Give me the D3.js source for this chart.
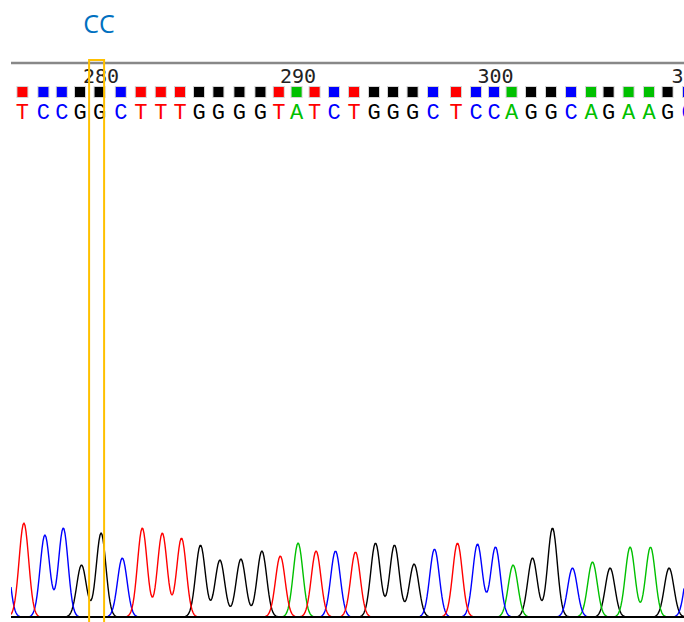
<!DOCTYPE html>
<html>
<head>
<meta charset="utf-8">
<script src="https://cdn.jsdelivr.net/npm/d3@7"></script>
<style>
  body { margin: 0; background: #fff; }
  svg { display: block; }
</style>
</head>
<body>
<div id="chrom"></div>
<script>
// base calls shown in the window (base 275 and 310 are only partly visible)
var baseNum = [275, 276, 277, 278, 279, 280, 281, 282, 283, 284, 285, 286, 287, 288, 289, 290, 291, 292,
  293, 294, 295, 296, 297, 298, 299, 300, 301, 302, 303, 304, 305, 306, 307, 308, 309, 310];
var baseCall = ["C", "T", "C", "C", "G", "G", "C", "T", "T", "T", "G", "G", "G", "G", "T", "A", "T", "C",
  "T", "G", "G", "G", "C", "T", "C", "C", "A", "G", "G", "C", "A", "G", "A", "A", "G", "C"];
// scan position of each base call
var callScan = [3395.5, 3405.2, 3415.7, 3424.9, 3434, 3443.8, 3454.4, 3464.4, 3474.4, 3484, 3493.5, 3503.2,
  3513.7, 3524.2, 3533.4, 3542.3, 3551.3, 3561, 3571, 3581, 3590.5, 3600.3, 3610.5, 3622, 3632, 3641,
  3649.8, 3659.5, 3669.5, 3679.5, 3689.5, 3698.3, 3708.3, 3718.5, 3727.8, 3738];
// peak signal of the called base
var peakHeight = [75, 94, 82, 89, 52, 84, 59, 89, 84, 79, 72, 57, 58, 66, 61, 74, 66, 66,
  65, 74, 72, 53, 68, 74, 73, 70, 52, 59, 89, 49, 55, 49, 70, 70, 49, 55];
var rulerTicks = [280, 290, 300, 310];
var markedBases = [279, 280];
var markLabel = "CC";

var baseColor = { A: "#00c000", C: "#0000ff", G: "#000000", T: "#ff0000" };

var svgWidth = 684;
var svgHeight = 622;
var left = 12;
var right = 684;
var baseY = 617;

var svg = d3.select("#chrom")
  .append("svg")
  .attr("width", svgWidth)
  .attr("height", svgHeight);

var xScale = d3.scaleLinear().domain([3400, 3736]).range([left, right]);
var yScale = d3.scaleLinear().domain([0, 100]).range([baseY, baseY - 100]);

var bases = baseNum.map(function(n, i) {
  return { num: n, call: baseCall[i], scan: callScan[i], h: peakHeight[i] };
});
var shown = bases.filter(function(d) { return d.num >= 276; });

svg.append("defs").append("clipPath")
  .attr("id", "clip")
  .append("rect")
  .attr("x", left - 1)
  .attr("y", 0)
  .attr("width", right - left + 1)
  .attr("height", svgHeight);

// ruler
svg.append("line")
  .attr("x1", left - 1)
  .attr("x2", right)
  .attr("y1", 63)
  .attr("y2", 63)
  .attr("stroke", "#888")
  .attr("stroke-width", 2.5);

var scanOf = function(n) { return callScan[baseNum.indexOf(n)]; };

svg.append("g")
  .attr("clip-path", "url(#clip)")
  .selectAll("text")
  .data(rulerTicks)
  .enter()
  .append("text")
  .attr("x", function(d) { return xScale(scanOf(d)) + 1.5; })
  .attr("y", 83)
  .attr("text-anchor", "middle")
  .style("font-family", "DejaVu Sans Mono")
  .style("font-size", "20px")
  .attr("fill", "#222")
  .text(function(d) { return d; });

// call squares
var callG = svg.append("g").attr("clip-path", "url(#clip)");

var sq = callG.selectAll("g")
  .data(shown)
  .enter()
  .append("g")
  .attr("transform", function(d) { return "translate(" + xScale(d.scan) + ",92)"; });

sq.append("rect")
  .attr("x", -6).attr("y", -6)
  .attr("width", 12).attr("height", 12)
  .attr("fill", "#d4d4d4");

sq.append("rect")
  .attr("x", -5).attr("y", -5)
  .attr("width", 10).attr("height", 10)
  .attr("fill", function(d) { return baseColor[d.call]; });

// call letters
callG.selectAll("text")
  .data(shown)
  .enter()
  .append("text")
  .attr("x", function(d) { return xScale(d.scan); })
  .attr("y", 119)
  .attr("text-anchor", "middle")
  .style("font-family", "Liberation Mono")
  .style("font-size", "22px")
  .attr("fill", function(d) { return baseColor[d.call]; })
  .text(function(d) { return d.call; });

// traces, one per dye
var sigma = 2.4;
var traceG = svg.append("g").attr("clip-path", "url(#clip)");
var px = d3.range(left - 1, right + 1, 1);

["G", "A", "C", "T"].forEach(function(ch) {
  var peaks = bases.filter(function(d) { return d.call === ch; });
  var pts = px.map(function(x) {
    var s = xScale.invert(x);
    var v = d3.sum(peaks, function(p) {
      var dx = s - (p.scan + 0.75);
      return p.h * Math.exp(-dx * dx / (2 * sigma * sigma));
    });
    return [x, yScale(v)];
  });
  traceG.append("path")
    .datum(pts)
    .attr("fill", "none")
    .attr("stroke", baseColor[ch])
    .attr("stroke-width", 1.4)
    .attr("stroke-linejoin", "round")
    .attr("d", d3.line());
});

svg.append("line")
  .attr("x1", left - 1)
  .attr("x2", right)
  .attr("y1", baseY)
  .attr("y2", baseY)
  .attr("stroke", "#000")
  .attr("stroke-width", 2);

// highlight box over the marked bases
var boxL = xScale(scanOf(markedBases[1])) - 10.5;
svg.append("rect")
  .attr("x", boxL)
  .attr("y", 60)
  .attr("width", 15)
  .attr("height", 600)
  .attr("fill", "none")
  .attr("stroke", "#ffc000")
  .attr("stroke-width", 2);

svg.append("text")
  .attr("x", boxL + 10)
  .attr("y", 33)
  .attr("text-anchor", "middle")
  .style("font-family", "Open Sans")
  .style("font-size", "25px")
  .attr("fill", "#0070c0")
  .text(markLabel);
</script>
</body>
</html>
